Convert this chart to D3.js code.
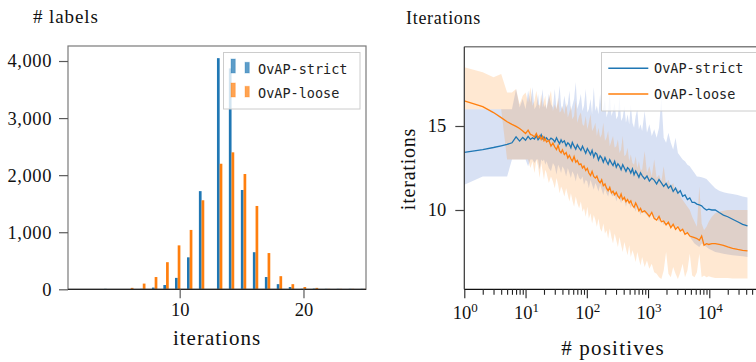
<!DOCTYPE html>
<html><head><meta charset="utf-8">
<script src="https://cdn.jsdelivr.net/npm/d3@7"></script>
<style>body{margin:0;background:#fff} svg{display:block}</style>
</head><body><svg id="c" width="756" height="362"></svg>
<script>
// ---------- LEFT: histogram data ----------
const binCenters = [4.11,5.08,6.05,7.02,7.98,8.90,9.84,10.81,11.77,13.23,14.19,15.16,16.13,17.10,18.06,19.03,20.00,20.97,21.94,22.90,23.87,24.84];
const strictCounts = [8,0,0,8,30,75,200,560,1720,4050,3870,1740,650,215,90,40,8,12,8,8,8,8];
const looseCounts  = [0,0,25,100,215,475,770,1040,1560,2200,2400,2020,1460,635,230,90,40,25,8,8,8,8];
const histYTicks = [0,1000,2000,3000,4000];
const histXTicks = [10,20];

// ---------- RIGHT: iterations vs # positives ----------
const posX = [1,2,3,4,5,6,7,8,9,10,11,12,13,14,15,16,17,18,19,20,21,
22,24,26,28,30,32,34,36,38,40,
43,46,49,52,55,58,62,66,70,75,
80,85,90,96,102,108,115,122,130,138,
146,155,165,175,186,198,210,223,237,252,
268,285,303,322,342,363,386,410,436,463,
492,523,556,591,628,667,709,753,800,880,
960,1050,1150,1260,1380,1510,1650,1800,1970,2150,
2350,2570,2810,3070,3360,3670,4010,4390,4800,5250,
5740,6280,6870,7500,8200,9000,9800,11000,12500,14500,
17000,20000,24000,29000,35000,42000];
const strictMean = [13.43,13.6,13.72,13.82,13.9,14.0,14.35,14.1,14.32,14.15,14.38,14.2,14.3,14.22,14.42,14.18,14.3,14.48,14.25,14.35,14.2,
14.3,14.12,14.28,14.2,14.05,14.3,14.1,13.95,14.18,14.02,
14.12,13.82,14.0,13.9,13.7,14.02,13.8,13.62,13.88,13.7,
13.55,13.8,13.6,13.38,13.66,13.5,13.3,13.55,13.15,13.4,
13.32,12.98,13.22,13.1,12.85,13.12,12.9,12.72,13.0,12.8,
12.65,12.9,12.55,12.75,12.62,12.4,12.7,12.5,12.3,12.52,
12.42,12.2,12.45,12.1,12.32,12.15,11.95,12.22,12.05,11.85,
12.02,11.72,11.9,11.78,11.55,11.82,11.62,11.4,11.58,11.3,
11.45,11.1,11.3,11.0,11.15,10.82,10.9,10.62,10.72,10.45,
10.45,10.35,10.3,10.25,10.1,10.0,10.05,10.0,10.0,9.85,
9.7,9.6,9.45,9.3,9.15,9.05];
const strictHi = [16,16,16,16,16,16,17.2,16.1,16.6,16.0,17.1,16.4,17.3,16.0,16.2,16.9,16.0,16.5,17.2,16.1,16.3,
16.0,16.9,16.3,16.1,17.2,16.0,16.5,17.4,16.2,16.0,
16.8,16.1,16.3,17.1,15.9,16.2,16.6,17.6,16.0,16.4,
16.9,15.9,16.2,17.2,15.8,16.0,16.6,15.7,17.3,15.9,
16.2,15.7,16.9,15.8,16.1,16.6,15.5,15.9,17.0,15.6,
15.9,16.4,15.4,15.6,16.8,15.3,15.5,16.2,15.2,15.7,
15.1,16.3,15.2,14.9,15.6,16.0,14.8,15.1,14.7,15.9,
14.6,15.1,14.4,14.8,14.3,14.9,16.7,14.3,14.0,14.6,
14.0,13.6,14.3,13.4,13.2,13.0,12.9,12.7,12.6,12.4,
12.2,12.0,11.98,11.95,11.9,11.85,11.7,11.5,11.3,11.15,
11.05,11.0,10.95,10.9,10.8,10.75];
const strictLo = [11.5,12.0,12.0,12.0,12.0,13.0,13.0,13.0,13.0,13.0,12.6,13.0,13.0,12.8,13.0,13.0,12.4,13.0,12.9,13.0,12.7,
12.9,12.5,12.3,12.8,12.6,12.1,12.7,12.5,12.2,12.6,
12.4,12.0,12.5,12.2,11.9,12.3,12.1,11.7,12.2,11.9,
11.8,12.0,11.5,11.8,11.7,11.3,11.8,11.5,11.2,11.6,
11.4,11.1,11.5,11.2,10.9,11.3,11.0,10.8,11.2,10.9,
10.8,11.0,10.5,10.9,10.7,10.4,10.8,10.6,10.2,10.6,
10.4,10.1,10.5,10.2,9.9,10.3,10.0,9.7,10.0,9.8,
9.7,9.5,9.8,9.4,9.6,9.3,9.5,9.1,9.3,9.1,
9.0,9.2,8.9,9.1,8.8,8.9,8.6,8.7,8.4,8.2,
8.0,7.9,7.8,8.0,7.9,7.8,7.7,7.6,7.5,7.45,
7.4,7.35,7.3,7.28,7.25,7.2];
const looseMean = [16.49,16.15,15.8,15.5,15.25,15.1,14.98,14.85,14.7,14.55,14.75,14.5,14.45,14.35,14.55,14.3,14.42,14.2,14.38,14.12,14.25,
14.05,14.15,13.8,13.98,13.75,13.6,13.85,13.5,13.4,13.58,
13.3,13.42,13.1,13.25,13.05,12.9,13.18,12.85,12.95,12.7,
12.75,12.5,12.62,12.35,12.48,12.2,12.05,12.3,12.0,11.9,
12.02,11.75,11.62,11.8,11.45,11.55,11.3,11.15,11.35,11.02,
11.12,10.9,11.05,10.82,10.7,10.95,10.62,10.75,10.5,10.62,
10.42,10.55,10.28,10.15,10.42,10.22,9.95,10.1,9.88,9.95,
9.8,9.62,9.85,9.5,9.4,9.62,9.3,9.35,9.12,9.28,
8.95,9.15,8.85,9.0,8.75,8.85,8.55,8.65,8.45,8.4,
8.35,8.3,8.2,8.45,7.9,8.0,7.95,8.0,8.0,7.95,
7.9,7.8,7.72,7.65,7.6,7.57];
const looseHi = [18.5,18.2,17.9,18.1,17.0,17.0,17.2,16.3,16.8,17.0,16.4,17.3,16.2,16.5,17.1,16.3,16.2,16.9,16.1,16.5,16.8,
16.0,16.6,17.1,15.9,16.3,16.0,16.7,15.8,15.9,16.2,
15.7,16.4,15.5,15.8,16.2,15.4,15.6,16.5,15.2,15.6,
15.8,15.1,15.0,15.6,14.8,15.2,15.7,14.7,14.9,15.2,
14.4,14.9,14.3,14.5,15.2,14.1,14.3,14.7,13.8,14.1,
14.4,13.7,13.8,14.2,13.4,13.6,14.4,13.2,13.3,13.7,
12.9,13.3,12.8,12.7,13.2,12.5,12.9,12.4,12.4,13.5,
12.2,12.6,12.0,13.0,11.9,12.1,11.7,12.6,11.5,11.8,
11.4,11.6,11.1,11.3,10.8,10.6,10.4,10.2,10.0,9.6,
9.3,9.0,11.4,9.2,8.8,9.0,9.3,9.6,9.8,9.9,
9.95,10.0,10.0,10.0,10.0,10.0];
const looseLo = [16,16,16,16,13.0,13.0,13.0,13.0,13.0,13.0,13.0,12.5,12.9,12.2,13.0,12.6,11.9,12.8,12.3,11.8,12.4,
12.2,11.6,12.0,11.7,11.3,11.9,11.5,11.0,11.4,11.2,
10.8,11.3,10.9,10.5,11.0,10.6,10.2,10.8,10.4,10.1,
10.5,9.9,10.1,9.6,10.2,9.5,9.8,9.2,9.7,9.4,
9.0,9.5,8.9,8.7,9.2,8.6,8.8,8.3,8.9,8.4,
8.0,8.6,8.2,7.8,8.4,7.9,7.5,8.1,7.7,7.3,
7.9,7.2,7.6,7.3,6.9,7.5,7.1,6.7,7.2,6.6,
7.0,6.5,6.8,6.3,6.2,6.0,5.9,6.4,7.5,6.2,
6.0,6.6,6.2,5.9,6.3,6.8,6.0,6.4,7.4,6.1,
6.0,6.3,7.4,6.0,6.1,6.0,6.05,6.0,5.95,5.95,
5.95,5.95,5.93,5.93,5.93,5.93];
const lineYTicks = [10,15];
const lineXMajor = [0,1,2,3,4];

const seriesNames = ["OvAP-strict","OvAP-loose"];
const colors = ["#1f77b4","#ff7f0e"];

const svg = d3.select("#c");
const serif = "'Liberation Serif','Times New Roman',serif";
const mono = "'DejaVu Sans Mono',monospace";

// ================= LEFT CHART =================
const L = {x0:68, x1:366, y0:46, y1:289.3};
const xL = d3.scaleLinear().domain([0.98,25.05]).range([L.x0,L.x1]);
const yL = d3.scaleLinear().domain([0,4263]).range([L.y1,L.y0]);
const gL = svg.append("g");
const barW = 0.218;
const bw = xL(barW)-xL(0);
gL.append("g").selectAll("rect").data(binCenters).join("rect")
  .attr("x", d=>xL(d)-bw).attr("width", bw)
  .attr("y", (d,i)=>yL(strictCounts[i])).attr("height",(d,i)=>yL(0)-yL(strictCounts[i]))
  .attr("fill", colors[0]);
gL.append("g").selectAll("rect").data(binCenters).join("rect")
  .attr("x", d=>xL(d)).attr("width", bw)
  .attr("y", (d,i)=>yL(looseCounts[i])).attr("height",(d,i)=>yL(0)-yL(looseCounts[i]))
  .attr("fill", colors[1]);

gL.append("rect").attr("x",L.x0).attr("y",L.y0).attr("width",L.x1-L.x0).attr("height",L.y1-L.y0)
  .attr("fill","none").attr("stroke","#7a7a7a").attr("stroke-width",1.2);
gL.append("line").attr("x1",L.x0).attr("x2",L.x1).attr("y1",yL(0)).attr("y2",yL(0))
  .attr("stroke","#262626").attr("stroke-width",1.3);

const axYL = gL.append("g").attr("transform",`translate(${L.x0},0)`)
  .call(d3.axisLeft(yL).tickValues(histYTicks).tickSize(9).tickPadding(7).tickFormat(d3.format(",")));
const axXL = gL.append("g").attr("transform",`translate(0,${L.y1})`)
  .call(d3.axisBottom(xL).tickValues(histXTicks).tickSize(9).tickPadding(5));
[axYL, axXL].forEach(a=>{
  a.select(".domain").remove();
  a.selectAll(".tick line").attr("stroke","#5a5a5a").attr("stroke-width",1.2);
  a.selectAll(".tick text").attr("fill","#111").style("font-family",serif).style("font-size","18.5px");
});
axYL.selectAll(".tick text").style("letter-spacing","0.6px");

gL.append("text").attr("x",33).attr("y",23).style("font-family",serif).style("font-size","19px")
  .style("letter-spacing","0.9px").attr("fill","#111").text("# labels");
gL.append("text").attr("x",217).attr("y",345).attr("text-anchor","middle").style("font-family",serif)
  .style("font-size","21px").style("letter-spacing","1px").attr("fill","#111").text("iterations");

const lgL = gL.append("g");
lgL.append("rect").attr("x",223.5).attr("y",52.5).attr("width",136.5).attr("height",56.5)
  .attr("fill","#fff").attr("fill-opacity",0.8).attr("stroke","#cccccc").attr("stroke-width",1);
seriesNames.forEach((name,i)=>{
  const yb = 73 + i*24;
  lgL.append("rect").attr("x",231).attr("y",yb-14).attr("width",4.3).attr("height",14)
    .attr("fill",colors[i]).attr("fill-opacity",0.72).attr("stroke",colors[i]).attr("stroke-opacity",0.3);
  lgL.append("rect").attr("x",245).attr("y",yb-10.7).attr("width",4.3).attr("height",10.7)
    .attr("fill",colors[i]).attr("fill-opacity",0.72).attr("stroke",colors[i]).attr("stroke-opacity",0.3);
  lgL.append("text").attr("x",258).attr("y",yb+0.5).style("font-family",mono).style("font-size","13.5px")
    .attr("fill","#222").text(name);
});

// ================= RIGHT CHART =================
const R = {x0:464.3, x1:758, y0:46.7, y1:289.3};
const xR = d3.scaleLog().domain([1, Math.pow(10,4.795)]).range([R.x0,R.x1]);
const yR = d3.scaleLinear().domain([5.28,19.72]).range([R.y1,R.y0]);
const gR = svg.append("g");
const series = [
  {mean:strictMean, lo:strictLo, hi:strictHi},
  {mean:looseMean, lo:looseLo, hi:looseHi}
];
const area = (s)=>d3.area().x((d,i)=>xR(posX[i])).y0((d,i)=>yR(s.lo[i])).y1((d,i)=>yR(s.hi[i]));
const line = (s)=>d3.line().x((d,i)=>xR(posX[i])).y((d,i)=>yR(s.mean[i]));
const bandFill = ["#3d68c8","#ff8a1c"];
series.forEach((s,k)=>{
  gR.append("path").datum(posX).attr("d",area(s)).attr("fill",bandFill[k]).attr("fill-opacity",0.2).attr("stroke","none");
});
series.forEach((s,k)=>{
  gR.append("path").datum(posX).attr("d",line(s)).attr("fill","none").attr("stroke",colors[k]).attr("stroke-width",1.3);
});

gR.append("line").attr("x1",R.x0).attr("x2",R.x1).attr("y1",R.y0).attr("y2",R.y0).attr("stroke","#808080").attr("stroke-width",1.5);
gR.append("line").attr("x1",R.x0).attr("x2",R.x1).attr("y1",R.y1).attr("y2",R.y1).attr("stroke","#111").attr("stroke-width",1.2);
gR.append("line").attr("x1",R.x0).attr("x2",R.x0).attr("y1",R.y0).attr("y2",R.y1).attr("stroke","#333").attr("stroke-width",1.2);

const axYR = gR.append("g").attr("transform",`translate(${R.x0},0)`)
  .call(d3.axisLeft(yR).tickValues(lineYTicks).tickSize(9).tickPadding(9));
axYR.select(".domain").remove();
axYR.selectAll(".tick line").attr("stroke","#444").attr("stroke-width",1.2);
axYR.selectAll(".tick text").attr("fill","#111").style("font-family",serif).style("font-size","18.5px");

const allTicks = [];
lineXMajor.forEach(e=>{ for(let m=1;m<10;m++){ const v=m*Math.pow(10,e); if(xR(v)<=R.x1) allTicks.push(v);} });
const axXR = gR.append("g").attr("transform",`translate(0,${R.y1})`)
  .call(d3.axisBottom(xR).tickValues(allTicks).tickSize(9).tickFormat(""));
axXR.select(".domain").remove();
axXR.selectAll(".tick line").attr("stroke","#222").attr("stroke-width",1.1)
  .attr("y2", d=>{ const l=Math.log10(d); return Math.abs(l-Math.round(l))<1e-9 ? 9 : 5.5; });
lineXMajor.forEach(e=>{
  const t = gR.append("text").attr("x",xR(Math.pow(10,e))+1).attr("y",319).attr("text-anchor","middle")
    .style("font-family",serif).style("font-size","18.5px").attr("fill","#111");
  t.append("tspan").text("10");
  t.append("tspan").attr("dy",-7).style("font-size","13px").text(String(e));
});

gR.append("text").attr("x",406).attr("y",24).style("font-family",serif).style("font-size","18px")
  .style("letter-spacing","0.7px").attr("fill","#111").text("Iterations");
gR.append("text").attr("transform","translate(415,169) rotate(-90)").attr("text-anchor","middle")
  .style("font-family",serif).style("font-size","20px").style("letter-spacing","0.8px").attr("fill","#111").text("iterations");
gR.append("text").attr("x",613).attr("y",355).attr("text-anchor","middle").style("font-family",serif)
  .style("font-size","21px").style("letter-spacing","1.2px").attr("fill","#111").text("# positives");

const lgR = gR.append("g");
lgR.append("rect").attr("x",601.5).attr("y",52.5).attr("width",160).attr("height",58.5)
  .attr("fill","#fff").attr("fill-opacity",0.8).attr("stroke","#cccccc").attr("stroke-width",1);
seriesNames.forEach((name,i)=>{
  const yl = 68.3 + i*25.7;
  lgR.append("line").attr("x1",608.3).attr("x2",648.3).attr("y1",yl).attr("y2",yl).attr("stroke",colors[i]).attr("stroke-width",1.4);
  lgR.append("text").attr("x",654).attr("y",yl+5).style("font-family",mono).style("font-size","13.5px").attr("fill","#222").text(name);
});
</script></body></html>
